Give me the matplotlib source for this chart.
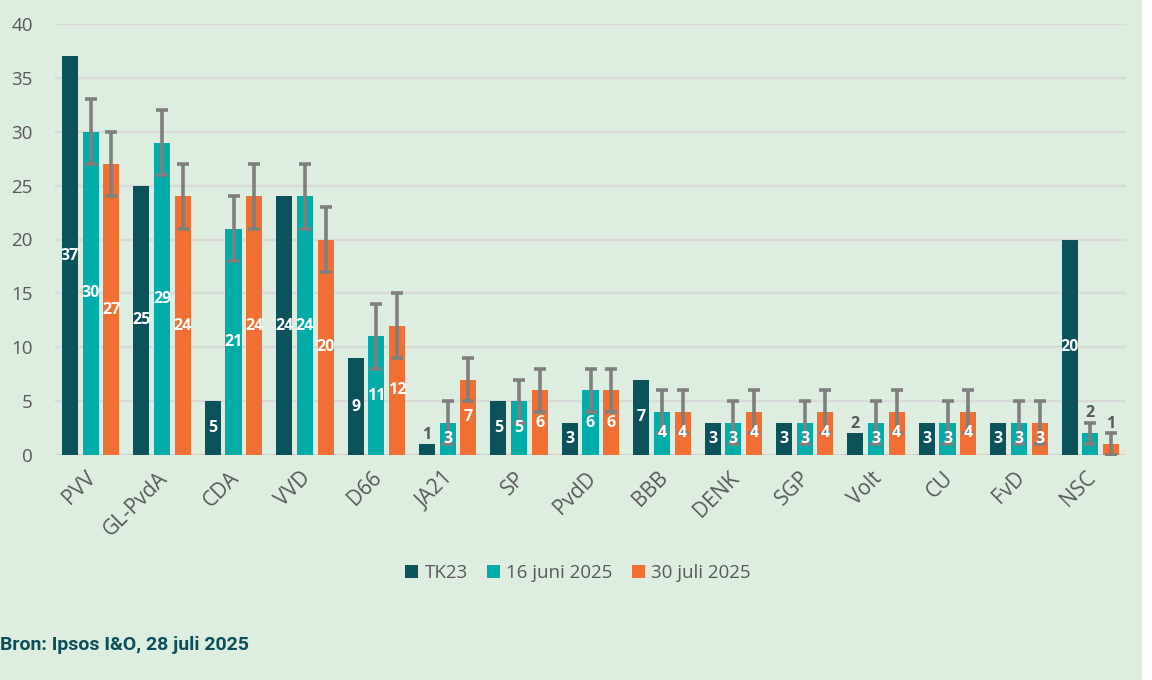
import matplotlib
matplotlib.use("Agg")
import matplotlib.pyplot as plt
from matplotlib.patches import Patch, Rectangle
import numpy as np

parties = ["PVV", "GL-PvdA", "CDA", "VVD", "D66", "JA21", "SP", "PvdD", "BBB",
           "DENK", "SGP", "Volt", "CU", "FvD", "NSC"]
tk23 = [37, 25, 5, 24, 9, 1, 5, 3, 7, 3, 3, 2, 3, 3, 20]
juni = [30, 29, 21, 24, 11, 3, 5, 6, 4, 3, 3, 3, 3, 3, 2]
juli = [27, 24, 24, 20, 12, 7, 6, 6, 4, 4, 4, 4, 4, 3, 1]
juni_err = [3, 3, 3, 3, 3, 2, 2, 2, 2, 2, 2, 2, 2, 2, 1]
juli_err = [3, 3, 3, 3, 3, 2, 2, 2, 2, 2, 2, 2, 2, 2, 1]
series_names = ["TK23", "16 juni 2025", "30 juli 2025"]
yticks = [0, 5, 10, 15, 20, 25, 30, 35, 40]
source = "Bron: Ipsos I&O, 28 juli 2025"

colors = ["#0B525B", "#00ADA8", "#F26F33"]
bg = "#DDEDDF"
grey_txt = "#595959"

W, H = 1152, 680
fig = plt.figure(figsize=(W / 100, H / 100), dpi=100, facecolor=bg)
fig.patches.append(Rectangle((1142 / W, 0), 10 / W, 1, transform=fig.transFigure,
                             facecolor="white", edgecolor="none", zorder=0))
ax = fig.add_axes([55 / W, (680 - 455) / H, 1071 / W, 431 / H])
ax.set_facecolor(bg)
ax.patch.set_alpha(0)

x = np.arange(len(parties))
bw = 0.225
off = 0.29
data = [tk23, juni, juli]
errs = [None, juni_err, juli_err]

for i, (vals, err) in enumerate(zip(data, errs)):
    xs = x + (i - 1) * off
    ax.bar(xs, vals, width=bw, color=colors[i], zorder=3, edgecolor="none")
    if err is not None:
        ax.errorbar(xs, vals, yerr=err, fmt="none", ecolor="#7F7F7F",
                    elinewidth=2.6, capsize=4.5, capthick=2.6, zorder=4)
    for j, v in enumerate(vals):
        e = err[j] if err is not None else 0
        if v <= 2:
            ax.text(xs[j], v + e + 0.9, str(v), ha="center", va="center",
                    color=grey_txt, fontsize=11.5, fontweight="bold",
                    family="Open Sans", zorder=5)
        else:
            ax.text(xs[j], v / 2, str(v), ha="center", va="center",
                    color="white", fontsize=11.5, fontweight="bold",
                    family="Open Sans", zorder=5)

ax.set_xlim(-0.5, len(parties) - 0.5)
ax.set_ylim(0, 40)
ax.set_yticks(yticks)
ax.set_yticklabels([str(t) for t in yticks], fontsize=13.5, color=grey_txt,
                   family="Open Sans")
ax.set_xticks(x)
ax.set_xticklabels(parties, rotation=45, ha="right", va="top",
                   rotation_mode="anchor", fontsize=15, color=grey_txt,
                   family="Open Sans")
ax.tick_params(axis="both", length=0)
ax.tick_params(axis="y", pad=16)
ax.tick_params(axis="x", pad=9)
for t in ax.get_xticklabels():
    t.set_transform(t.get_transform() + matplotlib.transforms.ScaledTranslation(-5 / 100, 0, fig.dpi_scale_trans))
ax.grid(axis="y", color="#D9D9D9", linewidth=1.6, zorder=0)
for s in ax.spines.values():
    s.set_visible(False)
ax.axhline(0, color="#D0D0D0", linewidth=1.8, zorder=2)

handles = [Patch(facecolor=c, edgecolor="none") for c in colors]
fig.legend(handles, series_names, loc="center", bbox_to_anchor=(578 / W, 1 - 573 / H),
           ncol=3, frameon=False, labelcolor=grey_txt,
           handlelength=0.7, handleheight=0.7, handletextpad=0.35, columnspacing=1.0,
           prop={"family": "Open Sans", "size": 13.5})

fig.text(0 / W, 1 - 645 / H, source, ha="left", va="center", fontsize=14,
         fontweight="bold", color="#0B4F5A", family="Roboto")

fig.savefig("out.png", dpi=100, facecolor=bg)
